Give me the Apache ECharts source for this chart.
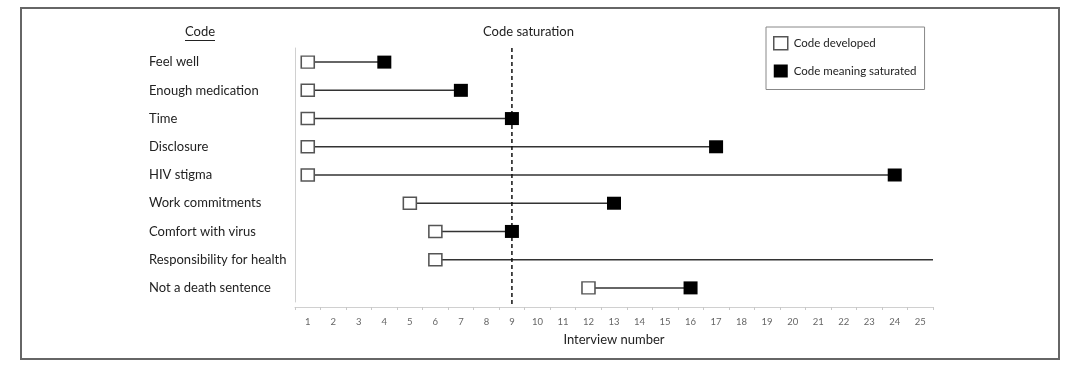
<!DOCTYPE html>
<html>
<head>
<meta charset="utf-8">
<script src="https://cdn.jsdelivr.net/npm/echarts@6/dist/echarts.min.js"></script>
<style>html,body{margin:0;padding:0;background:#fff}#c{width:1080px;height:374px}</style>
</head>
<body>
<div id="c"></div>
<script>
const codes = ['Feel well','Enough medication','Time','Disclosure','HIV stigma','Work commitments','Comfort with virus','Responsibility for health','Not a death sentence'];
const developed = [1,1,1,1,1,5,6,6,12];
const saturated = [4,7,9,17,24,13,9,null,16];
const tickLabels = ['1','2','3','4','5','6','7','8','9','10','11','12','13','14','15','16','17','18','19','20','21','22','23','24','25'];
const saturationPoint = 9;

const FONT = 'Lato';
const xMin = 0.5, xMax = 25.5;

const lineSeries = codes.map((c, i) => ({
  type: 'line',
  xAxisIndex: 0,
  yAxisIndex: 0,
  symbol: 'none',
  silent: true,
  z: 1,
  lineStyle: { color: '#333', width: 1.5 },
  data: [[developed[i], i], [saturated[i] == null ? xMax : saturated[i], i]]
}));

const chart = echarts.init(document.getElementById('c'), null, { renderer: 'canvas' });
chart.setOption({
  backgroundColor: '#fff',
  animation: false,
  textStyle: { fontFamily: FONT },
  grid: { left: 295, right: 147, top: 48, bottom: 72, containLabel: false },
  legend: {
    orient: 'vertical',
    left: 766, top: 27,
    padding: [9, 8, 12, 7],
    itemWidth: 14, itemHeight: 13, itemGap: 14,
    borderColor: '#888', borderWidth: 1,
    textStyle: { fontFamily: FONT, fontSize: 11.5, color: '#222', padding: [0, 0, 0, 1] },
    data: [
      { name: 'Code developed', icon: 'rect', itemStyle: { color: '#fff', borderColor: '#555', borderWidth: 1.5 } },
      { name: 'Code meaning saturated', icon: 'rect', itemStyle: { color: '#000', borderWidth: 0 } }
    ]
  },
  xAxis: [
    { type: 'value', min: xMin, max: xMax, show: false },
    {
      type: 'category', data: tickLabels, position: 'bottom', offset: 5,
      boundaryGap: true,
      name: 'Interview number', nameLocation: 'middle', nameGap: 26,
      nameTextStyle: { fontFamily: FONT, fontSize: 13, color: '#222' },
      axisLine: { lineStyle: { color: '#d0d0d0', width: 1 } },
      axisTick: { show: true, length: 3, lineStyle: { color: '#c8c8c8' } },
      axisLabel: { fontFamily: FONT, fontSize: 9.5, color: '#666', margin: 10 },
      splitLine: { show: false }
    }
  ],
  yAxis: [
    {
      type: 'value', min: -0.5, max: 8.5, inverse: true,
      show: false
    },
    {
      type: 'category', data: codes, inverse: true, position: 'left',
      boundaryGap: true,
      axisLine: { show: true, lineStyle: { color: '#d0d0d0', width: 1 } },
      axisTick: { show: false },
      splitLine: { show: false },
      axisLabel: {
        show: true, margin: 146, align: 'left', interval: 0,
        fontFamily: FONT, fontSize: 13, color: '#222', padding: [0, 0, 3, 0]
      }
    }
  ],
  series: [
    ...lineSeries,
    {
      type: 'line', xAxisIndex: 0, yAxisIndex: 0, symbol: 'none', silent: true, clip: false, z: 2,
      lineStyle: { color: '#111', type: [4, 3], width: 1.5 },
      data: [[saturationPoint, -0.5], [saturationPoint, 8.68]]
    },
    {
      name: 'Code developed', type: 'scatter', xAxisIndex: 0, yAxisIndex: 0, z: 3,
      symbol: 'rect', symbolSize: [13, 12],
      itemStyle: { color: '#fff', borderColor: '#555', borderWidth: 1.5, opacity: 1 },
      data: developed.map((v, i) => [v, i])
    },
    {
      name: 'Code meaning saturated', type: 'scatter', xAxisIndex: 0, yAxisIndex: 0, z: 4,
      symbol: 'rect', symbolSize: [14, 13],
      itemStyle: { color: '#000', opacity: 1 },
      data: saturated.map((v, i) => v == null ? null : [v, i]).filter(d => d)
    }
  ],
  graphic: [
    { type: 'rect', shape: { x: 21, y: 8, width: 1038, height: 351 }, style: { fill: 'none', stroke: '#666', lineWidth: 2 }, silent: true },
    { type: 'text', left: 185, top: 25, style: { text: 'Code', font: '13px ' + FONT, fill: '#222' } },
    { type: 'line', shape: { x1: 185, y1: 40.5, x2: 215, y2: 40.5 }, style: { stroke: '#222', lineWidth: 1 } },
    { type: 'text', left: 483, top: 25, style: { text: 'Code saturation', font: '13px ' + FONT, fill: '#222' } }
  ]
});
</script>
</body>
</html>
